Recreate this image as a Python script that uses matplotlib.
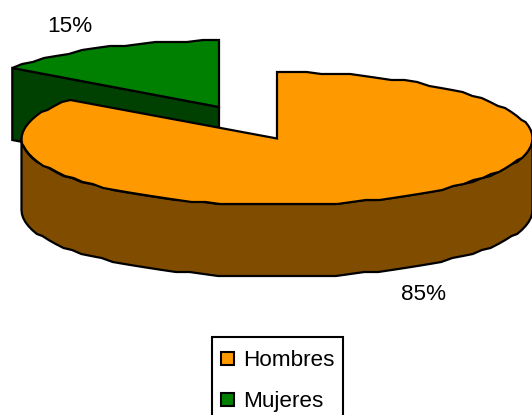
import numpy as np
import matplotlib
matplotlib.use("Agg")
import matplotlib.pyplot as plt
from matplotlib.patches import Polygon, Rectangle

categories = ["Hombres", "Mujeres"]
values = [85, 15]
labels = ["85%", "15%"]

TOP = ["#FF9900", "#008000"]
SIDE = ["#804D00", "#004000"]
RX, RY, DEPTH = 255.5, 66.5, 72
CENTERS = [(277, 138.5), (219, 107)]
STEP = 2.0
FS = 16.2

plt.rcParams["font.family"] = ["Liberation Sans", "DejaVu Sans"]
fig = plt.figure(figsize=(5.32, 4.15), dpi=100)
ax = fig.add_axes([0, 0, 1, 1])
ax.set_xlim(0, 532)
ax.set_ylim(415, 0)
ax.axis("off")

fractions = np.array(values) / sum(values)
# start at 12 o'clock, clockwise
a0 = 0.0
a1 = a0 + fractions[0] * 2 * np.pi
a2 = 2 * np.pi


def rim(cx, cy, start, end, per_turn=110):
    n = max(3, int(per_turn * (end - start) / (2 * np.pi)))
    t = np.linspace(start, end, n)
    x = cx + RX * np.sin(t)
    y = cy - RY * np.cos(t)
    # slightly wobbly edge like the low-res original
    return np.column_stack([x, np.round(y / STEP) * STEP])


def poly(pts, color, z):
    ax.add_patch(Polygon(pts, closed=True, facecolor=color, edgecolor="black",
                         linewidth=1.6, joinstyle="miter", zorder=z, clip_on=False))


# Mujeres (exploded, back-left)
cx, cy = CENTERS[1]
r = rim(cx, cy, a1, a2)
left = r[0]
apex = np.array([cx, cy])
poly([left, apex, apex + [0, DEPTH], left + [0, DEPTH]], SIDE[1], 1)
poly(np.vstack([r, [apex]]), TOP[1], 2)

# Hombres
cx, cy = CENTERS[0]
r = rim(cx, cy, a0, a1)
front = rim(cx, cy, np.pi / 2, 3 * np.pi / 2)
poly(np.vstack([front, front[::-1] + [0, DEPTH]]), SIDE[0], 3)
poly(np.vstack([r, [[cx, cy]]]), TOP[0], 4)

# Data labels
ax.text(70, 26, labels[1], fontsize=FS, ha="center", va="center", color="black")
ax.text(423, 294.5, labels[0], fontsize=FS, ha="center", va="center", color="black")

# Legend
ax.add_patch(Rectangle((211.5, 337), 131, 90, facecolor="white", edgecolor="black",
                       linewidth=1.5, zorder=5, clip_on=False))
for name, col, y in zip(categories, TOP, [359, 400]):
    ax.add_patch(Rectangle((220.5, y - 7), 13, 13, facecolor=col, edgecolor="black",
                           linewidth=1.5, zorder=6))
    ax.text(243, y + 1, name, fontsize=FS, ha="left", va="center", color="black", zorder=6)

fig.savefig("out.png", dpi=100)
